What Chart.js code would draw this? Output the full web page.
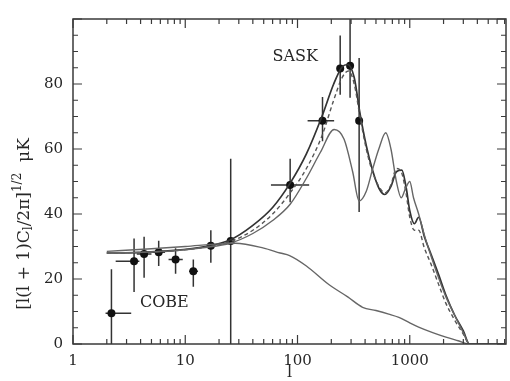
<!DOCTYPE html>
<html>
<head>
<meta charset="utf-8">
<script src="https://cdn.jsdelivr.net/npm/chart.js@4.4.1/dist/chart.umd.min.js"></script>
<style>
  html, body { margin: 0; padding: 0; background: #fff; }
  #chart { display: block; }
</style>
</head>
<body>
<canvas id="chart" width="510" height="381"></canvas>
<script>
// axis ticks
const xTickLabels = [1, 10, 100, 1000];
const yTickLabels = [0, 20, 40, 60, 80];

// COBE band powers (l, value, y range, l range)
const cobeL = [2.2, 3.5, 4.3, 5.8, 8.2, 11.8, 16.9, 25.4];
const cobeY = [9.5, 25.5, 27.7, 28.2, 26, 22.4, 30.2, 31.7];
const cobeYLo = [0, 16, 20.4, 24, 21.6, 17.6, 25, 0];
const cobeYHi = [23, 32.5, 33, 31.8, 29.5, 26, 35, 57];
const cobeXLo = [1.95, 2.4, 3.7, 5.1, 7.1, 10.8, 15.5, 25.4];
const cobeXHi = [3.3, 3.9, 5.0, 6.6, 9.5, 13.0, 18.5, 25.4];

// SASK band powers
const saskL = [86, 167, 240, 294, 354];
const saskY = [48.9, 68.7, 84.8, 85.6, 68.7];
const saskYLo = [43.6, 62.4, 76.7, 75.8, 40.6];
const saskYHi = [57, 76, 94.9, 102, 88];
const saskXLo = [58, 123, 228, 282, 340];
const saskXHi = [127, 212, 252, 306, 368];

// model spectra
const aL = [2, 4, 8, 15, 25, 40, 60, 86, 120, 165, 210, 250, 280, 320, 360, 410, 465, 530, 600, 680, 760, 850, 930, 1000, 1100, 1200, 1350, 1550, 1800, 2100, 2500, 3000, 3400, 7200];
const aY = [28, 28.2, 28.8, 30, 32, 36.5, 42, 49.5, 58.5, 70, 80, 85.3, 86, 82, 71, 61, 53.6, 48, 46, 48.5, 53, 53.5, 48, 41, 37, 39, 33, 27.5, 21.5, 15, 9, 4, 0, 0];
const bL = [2, 4, 8, 15, 25, 40, 60, 86, 120, 165, 210, 250, 285, 320, 360, 410, 465, 530, 600, 680, 760, 850, 930, 1000, 1100, 1200, 1350, 1550, 1800, 2100, 2500, 3000, 3400, 7200];
const bY = [28, 28.2, 28.7, 29.8, 31.5, 35, 40, 46.5, 54, 64, 75, 82, 84, 80, 70, 60, 53, 48.5, 46.5, 49, 54, 52.5, 46, 39, 35, 35, 29.5, 24.5, 18.5, 12.5, 7.5, 3, 0, 0];
const cL = [2, 4, 8, 15, 25, 40, 60, 86, 120, 160, 212, 260, 310, 354, 410, 465, 530, 611, 680, 760, 840, 920, 1000, 1080, 1200, 1350, 1550, 1800, 2100, 2500, 3000, 3400, 7200];
const cY = [28, 28.2, 28.7, 29.7, 31, 34, 38, 43, 51, 59, 66, 63, 53, 44, 47, 53.6, 60, 65, 60, 50, 45, 48, 50, 45, 40, 33.5, 27, 20.5, 14.5, 9, 3.5, 0, 0];
const lowL = [2, 5, 10, 20, 28, 50, 70, 85, 120, 190, 280, 380, 500, 650, 800, 1000, 1200, 1600, 2100, 2700, 3400, 7200];
const lowY = [28.5, 29.3, 30, 30.8, 31, 29.5, 28, 27.2, 24, 18.3, 14.5, 11.3, 10.3, 9.2, 8.2, 6.5, 5.2, 3.5, 2.1, 1, 0, 0];

const curve = (ls, ys) => ls.map((l, i) => ({ x: l, y: ys[i] }));

const ink = '#262626';
const serif = '"DejaVu Serif", "Liberation Serif", serif';

// error bars under the data points
const errorBars = {
  id: 'errorBars',
  beforeDatasetDraw(chart, args) {
    const ds = chart.data.datasets[args.index];
    if (!ds.err) return;
    const { ctx, chartArea: a, scales: { x, y } } = chart;
    const e = ds.err;
    ctx.save();
    ctx.beginPath();
    ctx.rect(a.left, a.top, a.right - a.left, a.bottom - a.top);
    ctx.clip();
    ctx.strokeStyle = '#333';
    ctx.lineWidth = 1.5;
    e.l.forEach((l, i) => {
      const px = x.getPixelForValue(l);
      const py = y.getPixelForValue(e.y[i]);
      ctx.beginPath();
      ctx.moveTo(px, y.getPixelForValue(e.ylo[i]));
      ctx.lineTo(px, y.getPixelForValue(e.yhi[i]));
      ctx.moveTo(x.getPixelForValue(e.xlo[i]), py);
      ctx.lineTo(x.getPixelForValue(e.xhi[i]), py);
      ctx.stroke();
    });
    ctx.restore();
  }
};

// frame, inward ticks, labels
const frame = {
  id: 'frame',
  afterDraw(chart) {
    const { ctx, chartArea: a, scales: { x, y } } = chart;
    ctx.save();
    ctx.strokeStyle = '#3a3a3a';
    ctx.lineWidth = 1.5;
    ctx.strokeRect(a.left, a.top, a.right - a.left, a.bottom - a.top);
    ctx.lineWidth = 1.2;
    ctx.beginPath();
    for (let d = 1; d <= 1000; d *= 10) {
      for (let m = 1; m <= 9; m++) {
        const v = d * m;
        if (v > x.max) break;
        const px = x.getPixelForValue(v);
        const len = m === 1 ? 9 : 5;
        ctx.moveTo(px, a.bottom); ctx.lineTo(px, a.bottom - len);
        ctx.moveTo(px, a.top); ctx.lineTo(px, a.top + len);
      }
    }
    for (let v = 0; v <= 100; v += 5) {
      const py = y.getPixelForValue(v);
      const len = v % 20 === 0 ? 9 : 5;
      ctx.moveTo(a.left, py); ctx.lineTo(a.left + len, py);
      ctx.moveTo(a.right, py); ctx.lineTo(a.right - len, py);
    }
    ctx.stroke();

    ctx.fillStyle = ink;
    ctx.textBaseline = 'middle';
    ctx.font = '16px ' + serif;
    ctx.fillText('SASK', x.getPixelForValue(60), y.getPixelForValue(88.5));
    ctx.fillText('COBE', x.getPixelForValue(3.95), y.getPixelForValue(12.8));

    ctx.textAlign = 'center';
    ctx.fillText('l', x.getPixelForValue(100) - 8, 373);

    // y title with subscript and superscript
    const parts = [
      { t: '[l(l + 1)C', size: 17, dy: 0 },
      { t: 'l', size: 12, dy: 4 },
      { t: '/2π]', size: 17, dy: 0 },
      { t: '1/2', size: 12, dy: -7 },
      { t: '  μK', size: 17, dy: 0 }
    ];
    let total = 0;
    parts.forEach(p => { ctx.font = p.size + 'px ' + serif; p.w = ctx.measureText(p.t).width; total += p.w; });
    ctx.translate(25, 224);
    ctx.rotate(-Math.PI / 2);
    ctx.textAlign = 'left';
    let cx = -total / 2;
    parts.forEach(p => {
      ctx.font = p.size + 'px ' + serif;
      ctx.fillText(p.t, cx, p.dy);
      cx += p.w;
    });
    ctx.restore();
  }
};

const line = (data, color, width, dash) => ({
  data, borderColor: color, borderWidth: width, borderDash: dash || [],
  pointRadius: 0, fill: false, cubicInterpolationMode: 'monotone'
});

new Chart(document.getElementById('chart'), {
  type: 'line',
  data: {
    datasets: [
      line(curve(lowL, lowY), '#666', 1.4),
      line(curve(cL, cY), '#666', 1.4),
      line(curve(bL, bY), '#555', 1.4, [4, 3]),
      line(curve(aL, aY), '#333', 1.7),
      {
        data: curve(cobeL, cobeY), showLine: false, pointRadius: 4, pointBorderWidth: 0,
        pointBackgroundColor: '#111',
        err: { l: cobeL, y: cobeY, ylo: cobeYLo, yhi: cobeYHi, xlo: cobeXLo, xhi: cobeXHi }
      },
      {
        data: curve(saskL, saskY), showLine: false, pointRadius: 4, pointBorderWidth: 0,
        pointBackgroundColor: '#111',
        err: { l: saskL, y: saskY, ylo: saskYLo, yhi: saskYHi, xlo: saskXLo, xhi: saskXHi }
      }
    ]
  },
  options: {
    responsive: false,
    animation: false,
    devicePixelRatio: 1,
    layout: { padding: { top: 13, right: 1, left: 0, bottom: 0 } },
    plugins: { legend: { display: false }, tooltip: { enabled: false } },
    scales: {
      x: {
        type: 'logarithmic', min: 1, max: 7200,
        afterBuildTicks: s => { s.ticks = xTickLabels.map(v => ({ value: v })); },
        afterFit: s => { s.height = 37; },
        grid: { display: false, drawTicks: false },
        border: { display: false },
        ticks: {
          autoSkip: false, maxRotation: 0, padding: 8, color: ink,
          font: { family: serif, size: 15 },
          callback: v => String(v)
        }
      },
      y: {
        type: 'linear', min: 0, max: 100,
        afterBuildTicks: s => { s.ticks = yTickLabels.map(v => ({ value: v })); },
        afterFit: s => { s.width = 73; },
        grid: { display: false, drawTicks: false },
        border: { display: false },
        ticks: {
          padding: 10, color: ink,
          font: { family: serif, size: 15 },
          callback: v => String(v)
        }
      }
    }
  },
  plugins: [errorBars, frame]
});
</script>
</body>
</html>
